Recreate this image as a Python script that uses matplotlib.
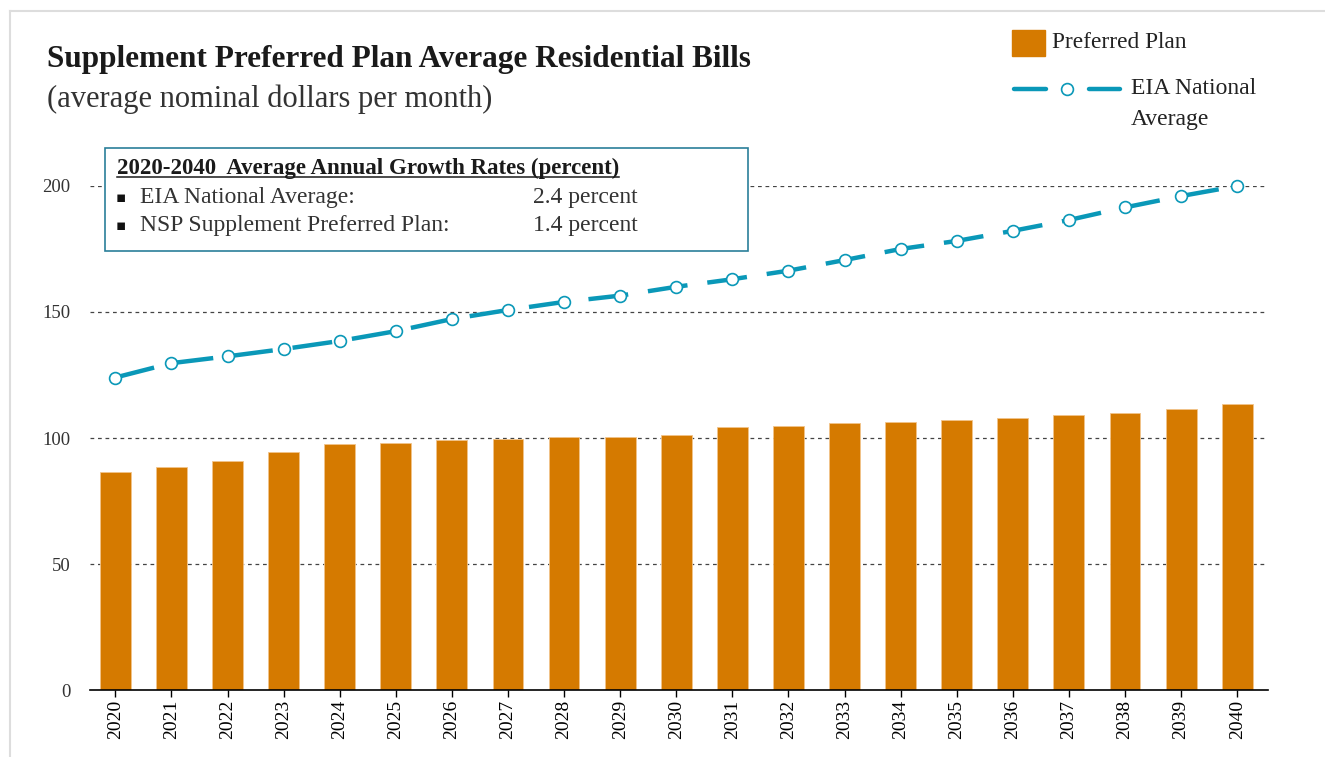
import matplotlib.pyplot as plt
import numpy as np
from matplotlib.lines import Line2D
from matplotlib.patches import Rectangle

plt.rcParams['font.family'] = ['Liberation Serif', 'DejaVu Serif']

years = [str(y) for y in range(2020, 2041)]
preferred_plan = [86.5, 88.6, 91.0, 94.3, 97.6, 98.1, 99.2, 99.6, 100.5, 100.5, 101.0,
                  104.4, 104.8, 105.8, 106.2, 107.3, 108.1, 109.0, 110.0, 111.5, 113.3]
eia_average = [124.0, 129.7, 132.4, 135.3, 138.5, 142.4, 147.2, 150.8, 154.0, 156.5, 160.0,
               163.0, 166.4, 170.6, 175.0, 178.2, 182.2, 186.5, 191.5, 196.0, 200.0]
y_ticks = [0, 50, 100, 150, 200]

ORANGE = '#D57A00'
TEAL = '#0A98B8'

fig = plt.figure(figsize=(13.25, 7.57), dpi=100)
ax = fig.add_axes([0.068, 0.0885, 0.889, 0.6658])

x = np.arange(len(years))
ax.bar(x, preferred_plan, width=0.55, color=ORANGE, edgecolor='#F2C48A', linewidth=0.6, zorder=2)
ax.plot(x, eia_average, color=TEAL, lw=3.2, linestyle=(0, (9, 4.5)), marker='o', ms=8.5,
        markerfacecolor='white', markeredgecolor=TEAL, markeredgewidth=1.2,
        zorder=3, clip_on=False)

ax.set_xlim(-0.45, 20.55)
ax.set_ylim(0, 200)
ax.set_yticks(y_ticks)
ax.set_xticks(x)
ax.set_xticklabels(years, rotation=90, fontsize=14)
ax.tick_params(axis='y', length=0, labelsize=13.5, pad=14, colors='#333333')
ax.tick_params(axis='x', length=5, width=1, pad=2)
for t in y_ticks[1:]:
    ax.axhline(t, color='#444444', lw=0.9, linestyle=(0, (3, 3)), zorder=1)
for s in ['top', 'right', 'left']:
    ax.spines[s].set_visible(False)
ax.spines['bottom'].set_linewidth(1.2)

# titles
fig.text(47 / 1325, 1 - 60 / 757, 'Supplement Preferred Plan Average Residential Bills',
         fontsize=22.5, fontweight='bold', va='center', ha='left', color='#1a1a1a')
fig.text(47 / 1325, 1 - 99 / 757, '(average nominal dollars per month)',
         fontsize=22, va='center', ha='left', color='#333333')

# legend
fig.patches.append(Rectangle((1012 / 1325, 1 - 56 / 757), 33 / 1325, 26 / 757,
                             transform=fig.transFigure, color=ORANGE))
fig.text(1052 / 1325, 1 - 43 / 757, 'Preferred Plan', fontsize=16.8, va='center', color='#222222')
fig.lines.append(Line2D([1014 / 1325, 1046 / 1325], [1 - 89 / 757] * 2, transform=fig.transFigure,
                        color=TEAL, lw=3.2, solid_capstyle='round'))
fig.lines.append(Line2D([1089 / 1325, 1120 / 1325], [1 - 89 / 757] * 2, transform=fig.transFigure,
                        color=TEAL, lw=3.2, solid_capstyle='round'))
fig.lines.append(Line2D([1067 / 1325], [1 - 89 / 757], transform=fig.transFigure, marker='o', ms=8.5,
                        markerfacecolor='white', markeredgecolor=TEAL, markeredgewidth=1.2))
fig.text(1131 / 1325, 1 - 89 / 757, 'EIA National', fontsize=17, va='center', color='#222222')
fig.text(1131 / 1325, 1 - 119 / 757, 'Average', fontsize=17, va='center', color='#222222')

# growth rate box
fig.patches.append(Rectangle((105 / 1325, 1 - 251 / 757), 643 / 1325, 103 / 757,
                             transform=fig.transFigure, facecolor='white', edgecolor='#2A7F9A',
                             lw=1.2, zorder=5))
box_title = fig.text(117 / 1325, 1 - 168 / 757, '2020-2040  Average Annual Growth Rates (percent)',
                     fontsize=16.5, fontweight='bold', va='center', color='#1a1a1a', zorder=6)
fig.canvas.draw()
bb = box_title.get_window_extent().transformed(fig.transFigure.inverted())
fig.lines.append(Line2D([bb.x0, bb.x1], [bb.y0 + 0.002] * 2, transform=fig.transFigure,
                        color='#1a1a1a', lw=1.1, zorder=6))
rows = [('EIA National Average:', '2.4 percent'), ('NSP Supplement Preferred Plan:', '1.4 percent')]
for i, (label, val) in enumerate(rows):
    yy = 1 - (197 + 29 * i) / 757
    fig.text(116 / 1325, yy, '\u25aa', fontsize=11, va='center', color='#111111', zorder=6,
             family=['DejaVu Sans'])
    fig.text(140 / 1325, yy, label, fontsize=17, va='center', color='#333333', zorder=6)
    fig.text(533 / 1325, yy, val, fontsize=17, va='center', color='#333333', zorder=6)

# frame lines
fig.lines.append(Line2D([10 / 1325, 10 / 1325], [0, 1 - 11 / 757], transform=fig.transFigure,
                        color='#DDDDDD', lw=1.5))
fig.lines.append(Line2D([10 / 1325, 1], [1 - 11 / 757] * 2, transform=fig.transFigure,
                        color='#DDDDDD', lw=1.5))

fig.savefig('out.png', dpi=100)
